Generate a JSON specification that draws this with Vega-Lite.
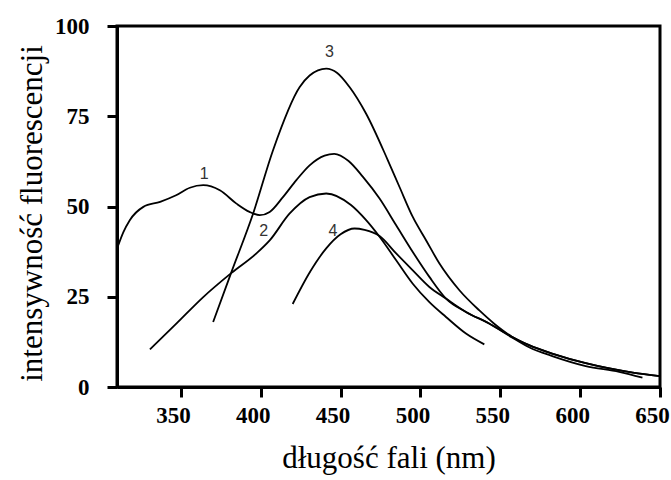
{
  "$schema": "https://vega.github.io/schema/vega-lite/v6.json",
  "width": 543,
  "height": 361,
  "autosize": "none",
  "padding": {"left": 117, "top": 26, "right": 11, "bottom": 93},
  "background": "white",
  "config": {
    "view": {"stroke": "black", "strokeWidth": 3},
    "axis": {
      "domainColor": "black", "domainWidth": 3,
      "tickColor": "black", "tickWidth": 3, "tickSize": 10,
      "grid": false,
      "labelFont": "Liberation Serif", "labelFontWeight": "bold", "labelFontSize": 23, "labelColor": "black",
      "titleFont": "Liberation Serif", "titleFontWeight": "normal", "titleFontSize": 31, "titleColor": "black"
    }
  },
  "datasets": {
    "curves": [
      {"curve": "1", "x": 310, "y": 38.3},
      {"curve": "1", "x": 314, "y": 42.9},
      {"curve": "1", "x": 318, "y": 46.2},
      {"curve": "1", "x": 326.5, "y": 49.9},
      {"curve": "1", "x": 337, "y": 51.3},
      {"curve": "1", "x": 347, "y": 53.1},
      {"curve": "1", "x": 355.6, "y": 55.2},
      {"curve": "1", "x": 364, "y": 55.9},
      {"curve": "1", "x": 374.4, "y": 54.5},
      {"curve": "1", "x": 384.8, "y": 50.8},
      {"curve": "1", "x": 393, "y": 48.5},
      {"curve": "1", "x": 399.4, "y": 47.6},
      {"curve": "1", "x": 405.6, "y": 48.5},
      {"curve": "1", "x": 413.9, "y": 52.6},
      {"curve": "1", "x": 422.3, "y": 57.3},
      {"curve": "1", "x": 430.6, "y": 61.4},
      {"curve": "1", "x": 440, "y": 64.1},
      {"curve": "1", "x": 446, "y": 64.6},
      {"curve": "1", "x": 455, "y": 62.6},
      {"curve": "1", "x": 464, "y": 58.2},
      {"curve": "1", "x": 474.4, "y": 52.2},
      {"curve": "1", "x": 484.8, "y": 44.8},
      {"curve": "1", "x": 495.2, "y": 37.4},
      {"curve": "1", "x": 505.6, "y": 30.5},
      {"curve": "1", "x": 516, "y": 24.5},
      {"curve": "1", "x": 528.5, "y": 20.8},
      {"curve": "1", "x": 543, "y": 17.6},
      {"curve": "1", "x": 557, "y": 14.0},
      {"curve": "1", "x": 568, "y": 11.6},
      {"curve": "1", "x": 583, "y": 9.2},
      {"curve": "1", "x": 603.5, "y": 6.6},
      {"curve": "1", "x": 633, "y": 4.0},
      {"curve": "1", "x": 650, "y": 3.0},
      {"curve": "2", "x": 330.6, "y": 10.4},
      {"curve": "2", "x": 347.3, "y": 17.6},
      {"curve": "2", "x": 364, "y": 24.9},
      {"curve": "2", "x": 381.7, "y": 31.6},
      {"curve": "2", "x": 397.3, "y": 37},
      {"curve": "2", "x": 405.6, "y": 40.6},
      {"curve": "2", "x": 418, "y": 48},
      {"curve": "2", "x": 430.6, "y": 52.6},
      {"curve": "2", "x": 441, "y": 53.6},
      {"curve": "2", "x": 456.5, "y": 50.4},
      {"curve": "2", "x": 466, "y": 46.2},
      {"curve": "2", "x": 474.4, "y": 41.6},
      {"curve": "2", "x": 484.8, "y": 35.1},
      {"curve": "2", "x": 495.2, "y": 28.6},
      {"curve": "2", "x": 505.6, "y": 23.5},
      {"curve": "2", "x": 516, "y": 19.4},
      {"curve": "2", "x": 528.5, "y": 14.8},
      {"curve": "2", "x": 540, "y": 11.8},
      {"curve": "3", "x": 370.2, "y": 18},
      {"curve": "3", "x": 381.7, "y": 31.9},
      {"curve": "3", "x": 395.2, "y": 48},
      {"curve": "3", "x": 407.7, "y": 65.6},
      {"curve": "3", "x": 424.4, "y": 83.1},
      {"curve": "3", "x": 430.6, "y": 86.3},
      {"curve": "3", "x": 441, "y": 88.2},
      {"curve": "3", "x": 447.9, "y": 87},
      {"curve": "3", "x": 455.6, "y": 83.1},
      {"curve": "3", "x": 466, "y": 75.7},
      {"curve": "3", "x": 479.6, "y": 62.8},
      {"curve": "3", "x": 486.9, "y": 55.4},
      {"curve": "3", "x": 495.2, "y": 47.1},
      {"curve": "3", "x": 503.6, "y": 40.6},
      {"curve": "3", "x": 511.9, "y": 34.2},
      {"curve": "3", "x": 524.4, "y": 26.8},
      {"curve": "3", "x": 536.9, "y": 21.2},
      {"curve": "3", "x": 546, "y": 17.6},
      {"curve": "3", "x": 557, "y": 14.0},
      {"curve": "3", "x": 568, "y": 11.6},
      {"curve": "3", "x": 583, "y": 9.2},
      {"curve": "3", "x": 603.5, "y": 6.6},
      {"curve": "3", "x": 633, "y": 4.0},
      {"curve": "3", "x": 650, "y": 3.0},
      {"curve": "4", "x": 420, "y": 23},
      {"curve": "4", "x": 431, "y": 32},
      {"curve": "4", "x": 441, "y": 38.4},
      {"curve": "4", "x": 450, "y": 42.3},
      {"curve": "4", "x": 458.75, "y": 43.9},
      {"curve": "4", "x": 465, "y": 43.5},
      {"curve": "4", "x": 474.4, "y": 41.8},
      {"curve": "4", "x": 484.8, "y": 37},
      {"curve": "4", "x": 495.2, "y": 32.3},
      {"curve": "4", "x": 505.6, "y": 27.7},
      {"curve": "4", "x": 516, "y": 24.5},
      {"curve": "4", "x": 528.5, "y": 20.8},
      {"curve": "4", "x": 543, "y": 17.6},
      {"curve": "4", "x": 557, "y": 13.8},
      {"curve": "4", "x": 568, "y": 11.0},
      {"curve": "4", "x": 583, "y": 8.5},
      {"curve": "4", "x": 603.5, "y": 5.8},
      {"curve": "4", "x": 624.4, "y": 4.2},
      {"curve": "4", "x": 639, "y": 2.6}
    ],
    "labels": [
      {"x": 364.6, "y": 59.1, "t": "1"},
      {"x": 401.9, "y": 43.2, "t": "2"},
      {"x": 443, "y": 92.8, "t": "3"},
      {"x": 445.2, "y": 43.2, "t": "4"}
    ]
  },
  "layer": [
    {
      "data": {"name": "curves"},
      "mark": {"type": "line", "interpolate": "monotone", "color": "black", "strokeWidth": 1.8, "clip": true},
      "encoding": {
        "x": {
          "field": "x", "type": "quantitative",
          "scale": {"domain": [310, 650], "nice": false, "zero": false},
          "axis": {"values": [350, 400, 450, 500, 550, 600, 650], "labelFlush": false, "labelOffset": -8, "labelPadding": 7, "titlePadding": 16, "title": "długość fali (nm)"}
        },
        "y": {
          "field": "y", "type": "quantitative",
          "scale": {"domain": [0, 100], "nice": false},
          "axis": {"values": [0, 25, 50, 75, 100], "labelPadding": 18, "titlePadding": 6, "titleY": 187, "title": "intensywność fluorescencji"}
        },
        "detail": {"field": "curve"}
      }
    },
    {
      "data": {"name": "labels"},
      "mark": {"type": "text", "font": "Liberation Sans", "fontSize": 16, "color": "#333333", "align": "center", "baseline": "middle"},
      "encoding": {
        "x": {"field": "x", "type": "quantitative"},
        "y": {"field": "y", "type": "quantitative"},
        "text": {"field": "t"}
      }
    }
  ]
}
